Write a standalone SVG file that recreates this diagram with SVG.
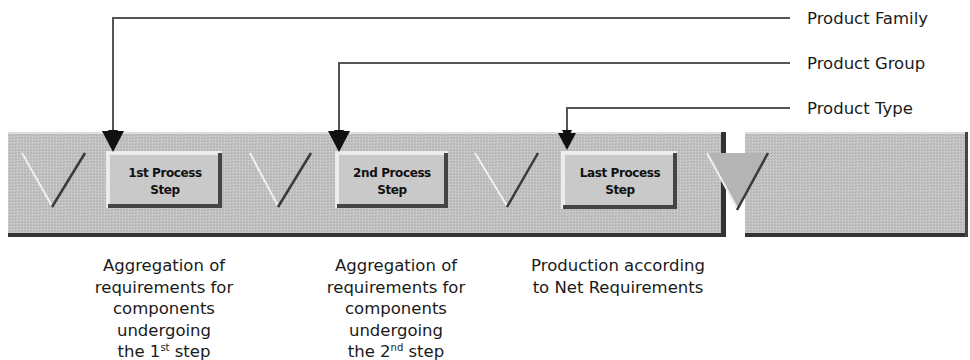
<svg xmlns="http://www.w3.org/2000/svg" width="970" height="360" viewBox="0 0 970 360">
<defs>
<pattern id="dither" width="3" height="3" patternUnits="userSpaceOnUse">
<rect width="3" height="3" fill="#c2c2c2"/>
<rect x="0" y="0" width="1" height="1" fill="#adadad"/>
<rect x="2" y="1" width="1" height="1" fill="#d2d2d2"/>
<rect x="1" y="2" width="1" height="1" fill="#b4b4b4"/>
</pattern>
<marker id="ah" viewBox="0 0 10 10" refX="10" refY="5" markerWidth="10" markerHeight="10" markerUnits="userSpaceOnUse" orient="auto">
<path d="M0,0 L10,5 L0,10 Z" fill="#111"/>
</marker>
<style>
.lbl{font-family:"DejaVu Sans","Liberation Sans",sans-serif;font-size:16.5px;fill:#1a1a1a}
.btxt{font-family:"DejaVu Sans","Liberation Sans",sans-serif;font-size:12px;fill:#111;text-anchor:middle;font-weight:600;letter-spacing:-0.4px}
.cap{font-family:"DejaVu Sans","Liberation Sans",sans-serif;font-size:16.5px;fill:#1a1a1a;text-anchor:middle}
.conn{fill:none;stroke:#555;stroke-width:2}
.lt{stroke:#f0f0f0;stroke-width:2;fill:none}
.dk{stroke:#3a3a3a;stroke-width:2.5;fill:none}
.face{fill:#c9c9c9}
</style>
</defs>
<rect width="970" height="360" fill="#fff"/>
<g id="band">
<rect x="8" y="132" width="718" height="105" fill="url(#dither)"/>
<rect x="745" y="132" width="223" height="105" fill="url(#dither)"/>
<rect x="8" y="132" width="718" height="2" fill="#dedede"/>
<rect x="745" y="132" width="223" height="2" fill="#dedede"/>
<rect x="8" y="233" width="718" height="4" fill="#333"/>
<rect x="745" y="233" width="223" height="4" fill="#333"/>
<rect x="721" y="132" width="5" height="105" fill="#333"/>
<rect x="965" y="132" width="3" height="105" fill="#444"/>
</g>
<g id="tri1"><line class="lt" x1="22" y1="153" x2="52" y2="206"/><line class="dk" x1="85" y1="153" x2="52" y2="207"/></g>
<g id="tri2"><line class="lt" x1="250" y1="153" x2="278" y2="206"/><line class="dk" x1="311" y1="153" x2="278" y2="207"/></g>
<g id="tri3"><line class="lt" x1="475" y1="153" x2="507" y2="206"/><line class="dk" x1="538" y1="153" x2="507" y2="207"/></g>
<g id="tri4">
<polygon points="707,153 768,153 737,210" fill="#b4b4b4"/>
<line class="lt" x1="707" y1="153" x2="737" y2="208"/>
<line class="dk" x1="768" y1="153" x2="737" y2="210"/>
</g>
<g id="step1">
<rect class="face" x="108" y="153" width="114" height="55"/>
<path d="M108,208 L108,153 L222,153" fill="none" stroke="#ececec" stroke-width="4"/>
<path d="M108,206 L220,206 L220,153" fill="none" stroke="#444" stroke-width="4"/>
<text class="btxt" x="165" y="177">1st Process</text>
<text class="btxt" x="165" y="194">Step</text>
</g>
<g id="step2">
<rect class="face" x="337" y="153" width="111" height="55"/>
<path d="M337,208 L337,153 L448,153" fill="none" stroke="#ececec" stroke-width="4"/>
<path d="M337,206 L446,206 L446,153" fill="none" stroke="#444" stroke-width="4"/>
<text class="btxt" x="392" y="177">2nd Process</text>
<text class="btxt" x="392" y="194">Step</text>
</g>
<g id="step3">
<rect class="face" x="563" y="153" width="114" height="56"/>
<path d="M563,209 L563,153 L677,153" fill="none" stroke="#ececec" stroke-width="4"/>
<path d="M563,207 L675,207 L675,153" fill="none" stroke="#444" stroke-width="4"/>
<text class="btxt" x="620" y="177">Last Process</text>
<text class="btxt" x="620" y="194">Step</text>
</g>
<g id="connectors">
<path class="conn" d="M790,18 L113,18 L113,140" marker-end="url(#ah)"/>
<path class="conn" d="M790,63 L339,63 L339,140" marker-end="url(#ah)"/>
<path class="conn" d="M790,108 L567,108 L567,140" marker-end="url(#ah)"/>
<polygon points="102,131 124,131 113,152" fill="#111"/>
<polygon points="328,131 350,131 339,152" fill="#111"/>
<polygon points="558,133 576,133 567,150" fill="#111"/>
</g>
<g id="labels">
<text class="lbl" x="807" y="24">Product Family</text>
<text class="lbl" x="807" y="69">Product Group</text>
<text class="lbl" x="807" y="114">Product Type</text>
</g>
<g id="caption1">
<text class="cap" x="164" y="271">Aggregation of</text>
<text class="cap" x="164" y="293">requirements for</text>
<text class="cap" x="164" y="314">components</text>
<text class="cap" x="164" y="336">undergoing</text>
<text class="cap" x="164" y="357">the 1<tspan font-size="10" dy="-6">st</tspan><tspan dy="6"> step</tspan></text>
</g>
<g id="caption2">
<text class="cap" x="396" y="271">Aggregation of</text>
<text class="cap" x="396" y="293">requirements for</text>
<text class="cap" x="396" y="314">components</text>
<text class="cap" x="396" y="336">undergoing</text>
<text class="cap" x="396" y="357">the 2<tspan font-size="10" dy="-6">nd</tspan><tspan dy="6"> step</tspan></text>
</g>
<g id="caption3">
<text class="cap" x="618" y="271">Production according</text>
<text class="cap" x="618" y="293">to Net Requirements</text>
</g>
</svg>
